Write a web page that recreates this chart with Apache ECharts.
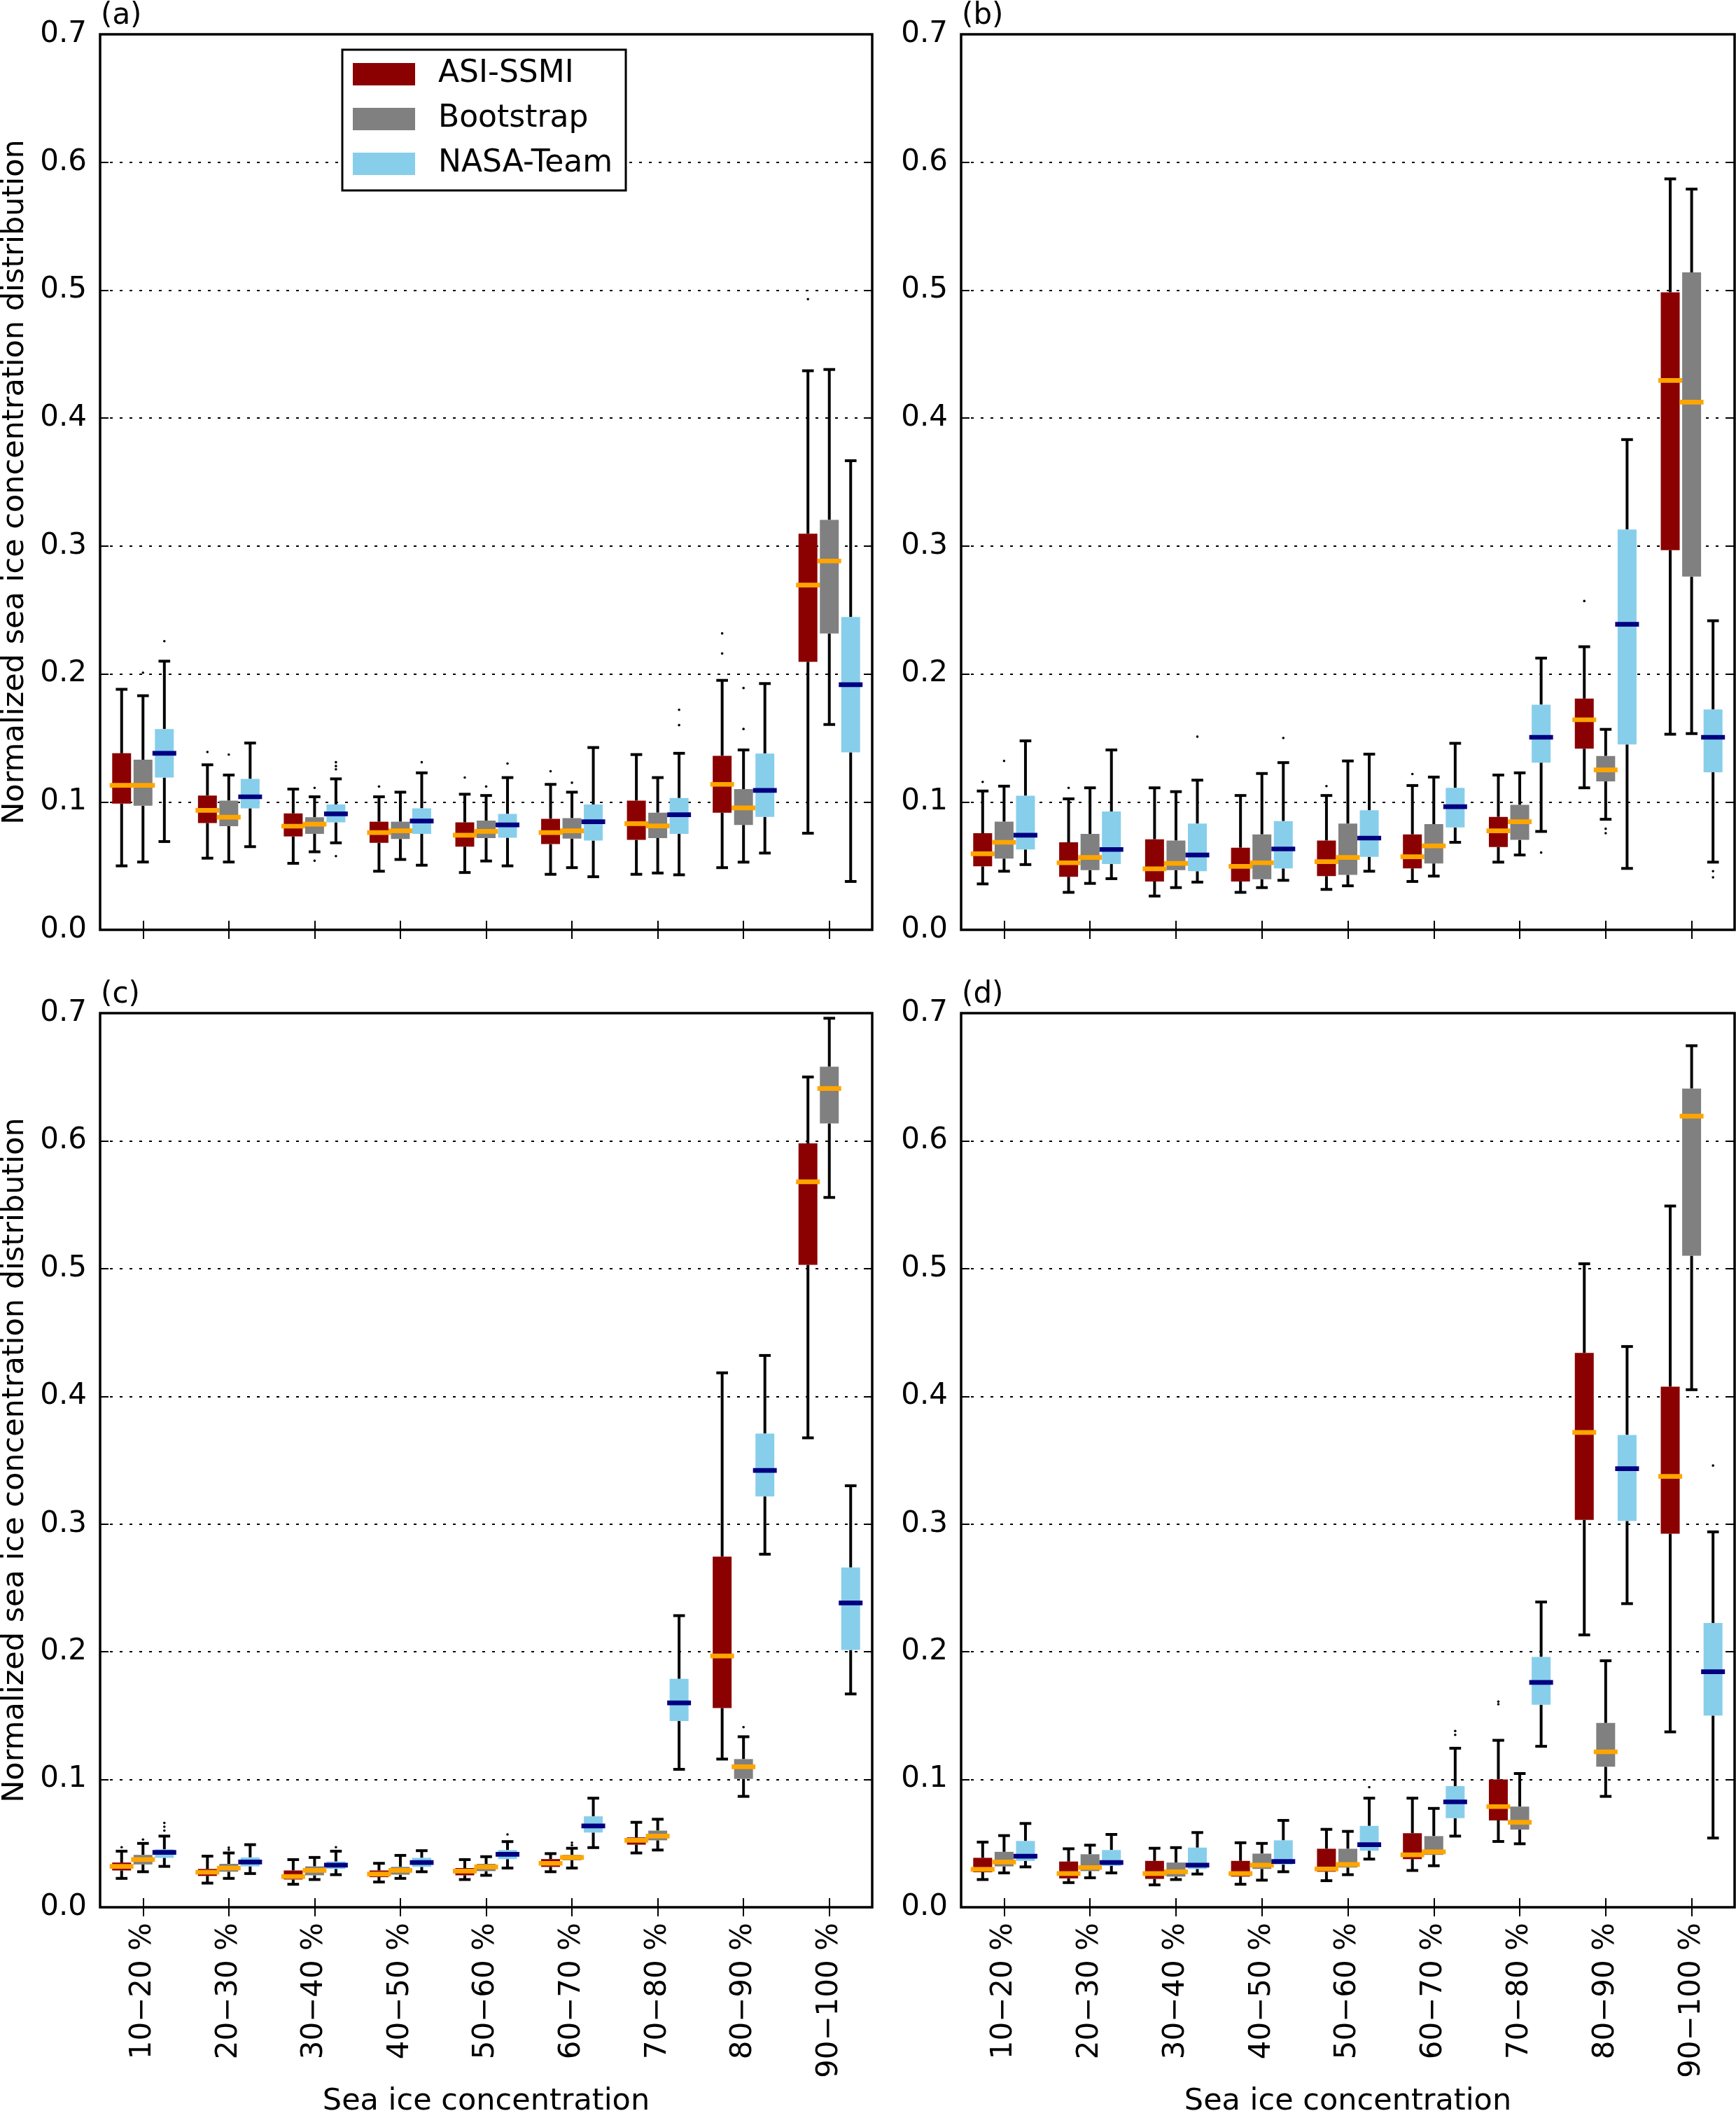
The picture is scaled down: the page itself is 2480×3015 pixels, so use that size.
<!DOCTYPE html>
<html><head><meta charset="utf-8">
<script src="https://cdn.jsdelivr.net/npm/echarts@6/dist/echarts.min.js"></script>
<style>html,body{margin:0;padding:0;background:#fff}#c{width:2480px;height:3015px}</style>
</head><body><div id="c"></div><script>
// ---------- data ----------
const categories = ['10\u221220 %','20\u221230 %','30\u221240 %','40\u221250 %','50\u221260 %','60\u221270 %','70\u221280 %','80\u221290 %','90\u2212100 %'];
const products = ['ASI-SSMI','Bootstrap','NASA-Team'];
const yTicks = [0,0.1,0.2,0.3,0.4,0.5,0.6,0.7];
const panelLabels = ['(a)','(b)','(c)','(d)'];
// rows: [lower whisker, Q1, median, Q3, upper whisker] per category
const a_ASI = [[0.050,0.0986,0.113,0.138,0.188],[0.056,0.0835,0.0934,0.105,0.129],[0.052,0.073,0.081,0.091,0.110],[0.0458,0.068,0.076,0.0845,0.104],[0.0448,0.065,0.074,0.084,0.106],[0.0434,0.067,0.076,0.0868,0.1137],[0.0434,0.0703,0.083,0.101,0.137],[0.0486,0.0916,0.1137,0.136,0.195],[0.0755,0.2095,0.2695,0.3096,0.437]];
const a_BOOT = [[0.053,0.097,0.113,0.133,0.183],[0.053,0.081,0.088,0.101,0.121],[0.061,0.075,0.0826,0.088,0.104],[0.055,0.071,0.0774,0.0845,0.1076],[0.0538,0.0717,0.077,0.0854,0.105],[0.0486,0.0713,0.0774,0.0873,0.1076],[0.0444,0.0717,0.0812,0.0916,0.119],[0.0529,0.082,0.0953,0.110,0.1406],[0.1605,0.2317,0.2883,0.3204,0.438]];
const a_NASA = [[0.069,0.119,0.138,0.157,0.210],[0.065,0.095,0.104,0.118,0.146],[0.068,0.084,0.0906,0.098,0.118],[0.0505,0.075,0.085,0.095,0.1227],[0.050,0.072,0.082,0.0906,0.119],[0.0415,0.0698,0.0845,0.098,0.1425],[0.043,0.075,0.090,0.103,0.138],[0.060,0.0883,0.109,0.1378,0.1925],[0.0378,0.1387,0.1916,0.2445,0.3667]];
const b_ASI = [[0.0359,0.0496,0.0595,0.0755,0.1085],[0.0293,0.0415,0.0524,0.0684,0.1024],[0.0264,0.0378,0.0477,0.0708,0.111],[0.0293,0.0378,0.0496,0.0642,0.105],[0.0316,0.042,0.0533,0.0698,0.105],[0.0378,0.048,0.0571,0.0746,0.1128],[0.0529,0.0647,0.0774,0.0883,0.121],[0.111,0.1416,0.1642,0.1807,0.2213],[0.1529,0.2968,0.4294,0.4983,0.587]];
const b_BOOT = [[0.0458,0.0557,0.0684,0.0845,0.1123],[0.0363,0.0467,0.0566,0.075,0.111],[0.033,0.0467,0.0519,0.0698,0.108],[0.033,0.0396,0.0524,0.0746,0.1222],[0.0344,0.043,0.0566,0.083,0.132],[0.042,0.0519,0.0656,0.0826,0.1194],[0.0585,0.0703,0.0845,0.0977,0.1227],[0.0864,0.116,0.125,0.1359,0.1567],[0.1534,0.2761,0.4125,0.5139,0.579]];
const b_NASA = [[0.051,0.0628,0.074,0.1048,0.1477],[0.040,0.0514,0.0628,0.0925,0.1406],[0.0373,0.0458,0.0585,0.083,0.117],[0.0387,0.048,0.0632,0.085,0.1307],[0.0458,0.0571,0.0717,0.0934,0.1373],[0.0684,0.080,0.0963,0.111,0.1458],[0.0769,0.1307,0.1505,0.176,0.2124],[0.048,0.1449,0.2388,0.3129,0.3832],[0.0529,0.1232,0.1505,0.1722,0.2416]];
const c_ASI = [[0.0226,0.0288,0.032,0.035,0.0439],[0.0189,0.0245,0.0274,0.030,0.040],[0.018,0.0217,0.024,0.0288,0.0373],[0.0198,0.0236,0.026,0.0288,0.0344],[0.0217,0.025,0.0283,0.0307,0.0373],[0.0278,0.0316,0.0344,0.0377,0.042],[0.0425,0.049,0.0524,0.0547,0.0665],[0.116,0.156,0.1967,0.2745,0.4184],[0.3675,0.503,0.568,0.598,0.65]];
const c_BOOT = [[0.0278,0.0335,0.0373,0.041,0.050],[0.0226,0.0278,0.0307,0.034,0.0425],[0.0217,0.025,0.0288,0.032,0.039],[0.0226,0.0255,0.0288,0.0316,0.0406],[0.025,0.0283,0.0316,0.034,0.0396],[0.0307,0.0368,0.039,0.041,0.0462],[0.0448,0.0524,0.0557,0.060,0.0689],[0.0868,0.1005,0.110,0.116,0.1335],[0.5557,0.6137,0.641,0.658,0.696]];
const c_NASA = [[0.032,0.0387,0.043,0.0453,0.0557],[0.0264,0.032,0.0354,0.039,0.049],[0.0255,0.030,0.033,0.0358,0.0439],[0.0278,0.0316,0.035,0.0387,0.0443],[0.0307,0.0377,0.0415,0.0448,0.0514],[0.0467,0.0585,0.0637,0.0712,0.0854],[0.108,0.1458,0.16,0.1788,0.2283],[0.2764,0.3217,0.342,0.3708,0.432],[0.167,0.2014,0.2382,0.266,0.330]];
const d_ASI = [[0.0217,0.0274,0.0297,0.0387,0.051],[0.0193,0.0226,0.0264,0.0358,0.0458],[0.0175,0.0222,0.0264,0.0363,0.0462],[0.018,0.024,0.0264,0.0363,0.0505],[0.0208,0.0278,0.030,0.0458,0.061],[0.0288,0.0377,0.041,0.058,0.0854],[0.0515,0.068,0.0788,0.100,0.1307],[0.2132,0.3033,0.3717,0.434,0.5038],[0.1373,0.2925,0.3373,0.4075,0.549]];
const d_BOOT = [[0.0269,0.032,0.0354,0.0434,0.0561],[0.0231,0.0283,0.0311,0.0415,0.0486],[0.0217,0.024,0.0278,0.035,0.0467],[0.0212,0.030,0.033,0.042,0.050],[0.0255,0.0311,0.0335,0.0458,0.0594],[0.0325,0.041,0.0434,0.0557,0.0774],[0.0497,0.0608,0.0665,0.0788,0.1047],[0.0868,0.11,0.1217,0.1443,0.193],[0.4052,0.51,0.6193,0.641,0.6745]];
const d_NASA = [[0.0316,0.0363,0.040,0.0519,0.0656],[0.0269,0.0325,0.035,0.0448,0.057],[0.026,0.030,0.033,0.0467,0.0585],[0.0278,0.0335,0.0358,0.0524,0.068],[0.0377,0.0443,0.049,0.0637,0.0854],[0.0557,0.0698,0.0825,0.0948,0.1245],[0.126,0.1585,0.176,0.196,0.239],[0.2377,0.3024,0.3434,0.3698,0.439],[0.0542,0.15,0.1844,0.2226,0.2939]];
// outliers: [category index, value]
const a_ASI_out = [[1,0.139],[3,0.112],[4,0.119],[5,0.124],[7,0.2317],[7,0.216],[8,0.493]];
const a_BOOT_out = [[0,0.201],[1,0.137],[2,0.111],[2,0.054],[4,0.112],[5,0.115],[7,0.189],[7,0.157]];
const a_NASA_out = [[0,0.2256],[2,0.131],[2,0.128],[2,0.1255],[2,0.0576],[3,0.131],[4,0.13],[6,0.172],[6,0.160]];
const b_ASI_out = [[0,0.1156],[1,0.111],[4,0.1123],[5,0.1218],[7,0.257]];
const b_BOOT_out = [[0,0.132],[7,0.079],[7,0.0755]];
const b_NASA_out = [[2,0.151],[3,0.150],[6,0.0604],[8,0.0458],[8,0.041]];
const c_ASI_out = [[0,0.047]];
const c_BOOT_out = [[0,0.053],[1,0.0467],[1,0.045],[5,0.0505],[5,0.0486],[7,0.141]];
const c_NASA_out = [[0,0.066],[0,0.063],[0,0.060],[2,0.047],[4,0.057]];
const d_ASI_out = [[6,0.161],[6,0.159]];
const d_BOOT_out = [];
const d_NASA_out = [[4,0.094],[5,0.138],[5,0.135],[8,0.3458]];

// ---------- styling ----------
const FONT = 'DejaVu Sans';
const FS = 42;
const boxColors = ['#8B0000','#808080','#87CEEB'];
const medianColors = ['#FFA500','#FFA500','#000080'];
const panels = [
  {boxes:[a_ASI,a_BOOT,a_NASA], outs:[a_ASI_out,a_BOOT_out,a_NASA_out]},
  {boxes:[b_ASI,b_BOOT,b_NASA], outs:[b_ASI_out,b_BOOT_out,b_NASA_out]},
  {boxes:[c_ASI,c_BOOT,c_NASA], outs:[c_ASI_out,c_BOOT_out,c_NASA_out]},
  {boxes:[d_ASI,d_BOOT,d_NASA], outs:[d_ASI_out,d_BOOT_out,d_NASA_out]}
];
const gridPos = [
  {left:143, top:49, width:1103, height:1279},
  {left:1373, top:49, width:1105, height:1279},
  {left:143, top:1447, width:1103, height:1277},
  {left:1373, top:1447, width:1105, height:1277}
];
const OFFSET = 0.249, BOXW = 0.22, CAPW = 0.136;

function boxRender(k) {
  return function (params, api) {
    const idx = api.value(0);
    const band = api.size([1, 0])[0];
    const pm = api.coord([idx, api.value(3)]);
    const cx = pm[0] + (k - 1) * band * OFFSET;
    const w = band * BOXW, cw = band * CAPW;
    const yLo = api.coord([idx, api.value(1)])[1];
    const yQ1 = api.coord([idx, api.value(2)])[1];
    const yQ3 = api.coord([idx, api.value(4)])[1];
    const yHi = api.coord([idx, api.value(5)])[1];
    const ls = {stroke:'#000', lineWidth:4};
    return {type:'group', children:[
      {type:'line', shape:{x1:cx,y1:yQ1,x2:cx,y2:yLo}, style:ls},
      {type:'line', shape:{x1:cx,y1:yQ3,x2:cx,y2:yHi}, style:ls},
      {type:'line', shape:{x1:cx-cw/2,y1:yLo,x2:cx+cw/2,y2:yLo}, style:ls},
      {type:'line', shape:{x1:cx-cw/2,y1:yHi,x2:cx+cw/2,y2:yHi}, style:ls},
      {type:'rect', shape:{x:cx-w/2, y:yQ3, width:w, height:yQ1-yQ3}, style:{fill:boxColors[k]}},
      {type:'line', shape:{x1:cx-w/2-3.5,y1:pm[1],x2:cx+w/2+3.5,y2:pm[1]}, style:{stroke:medianColors[k], lineWidth:6.7}}
    ]};
  };
}
function outRender(k) {
  return function (params, api) {
    const idx = api.value(0);
    const band = api.size([1, 0])[0];
    const p = api.coord([idx, api.value(1)]);
    return {type:'circle', shape:{cx:p[0] + (k - 1) * band * OFFSET, cy:p[1], r:1.8}, style:{fill:'#000'}};
  };
}

const grid = [], xAxis = [], yAxis = [], series = [], graphic = [];
panels.forEach((pn, g) => {
  const gp = gridPos[g];
  grid.push(Object.assign({show:true, borderColor:'#000', borderWidth:3.5, backgroundColor:'transparent',
    containLabel:false, outerBoundsMode:'none'}, gp));
  const bottomRow = g >= 2, leftCol = g % 2 === 0;
  const tick = {show:true, inside:true, alignWithLabel:true, length:13, lineStyle:{color:'#000', width:2}};
  xAxis.push({type:'category', gridIndex:g, data:categories, position:'bottom', boundaryGap:true,
    axisLine:{show:false}, axisTick:tick,
    axisLabel:{show:bottomRow, rotate:90, margin:22, fontFamily:FONT, fontSize:FS, color:'#000', interval:0},
    name: bottomRow ? 'Sea ice concentration' : '', nameLocation:'middle', nameGap:256,
    nameTextStyle:{fontFamily:FONT, fontSize:43, color:'#000'}});
  xAxis.push({type:'category', gridIndex:g, data:categories, position:'top', boundaryGap:true,
    axisLine:{show:false}, axisTick:tick, axisLabel:{show:false}});
  const yt = {show:true, inside:true, length:12, lineStyle:{color:'#000', width:2}};
  yAxis.push({type:'value', gridIndex:g, min:yTicks[0], max:yTicks[yTicks.length-1], interval:0.1, position:'left',
    axisLine:{show:false}, axisTick:yt,
    axisLabel:{margin:19, fontFamily:FONT, fontSize:FS, color:'#000', formatter: v => v.toFixed(1)},
    splitLine:{show:true, lineStyle:{color:'#000', width:2, type:[4,10]}},
    name: leftCol ? 'Normalized sea ice concentration distribution' : '', nameLocation:'middle', nameGap:100, nameRotate:90,
    nameTextStyle:{fontFamily:FONT, fontSize:43, color:'#000'}});
  yAxis.push({type:'value', gridIndex:g, min:yTicks[0], max:yTicks[yTicks.length-1], interval:0.1, position:'right',
    axisLine:{show:false}, axisTick:yt, axisLabel:{show:false}, splitLine:{show:false}});
  for (let k = 0; k < 3; k++) {
    series.push({type:'custom', name:products[k], xAxisIndex:2*g, yAxisIndex:2*g,
      itemStyle:{color:boxColors[k]},
      encode:{x:0, y:[1,2,3,4,5]},
      data: pn.boxes[k].map((r, i) => [i].concat(r)),
      renderItem: boxRender(k), z:3});
    series.push({type:'custom', name:products[k] + ' outliers', xAxisIndex:2*g, yAxisIndex:2*g,
      encode:{x:0, y:1}, data: pn.outs[k], renderItem: outRender(k), z:3});
  }
  graphic.push({type:'text', x:gp.left + 1, y:gp.top - 47, style:{text:panelLabels[g], fontFamily:FONT, fontSize:FS, fill:'#000', textVerticalAlign:'top'}});
});

const chart = echarts.init(document.getElementById('c'), null, {renderer:'canvas'});
chart.setOption({
  animation:false,
  backgroundColor:'#fff',
  grid, xAxis, yAxis, series, graphic,
  legend:{
    data: products.map((p, k) => ({name:p, icon:'rect', itemStyle:{color:boxColors[k]}})),
    orient:'vertical', left:489, top:71,
    itemWidth:89, itemHeight:32, itemGap:20,
    padding:[13, 19, 16, 15],
    backgroundColor:'#fff', borderColor:'#000', borderWidth:3,
    textStyle:{fontFamily:FONT, fontSize:44, color:'#000', lineHeight:43, padding:[0,0,0,28]},
    selectedMode:false
  }
});
</script></body></html>
